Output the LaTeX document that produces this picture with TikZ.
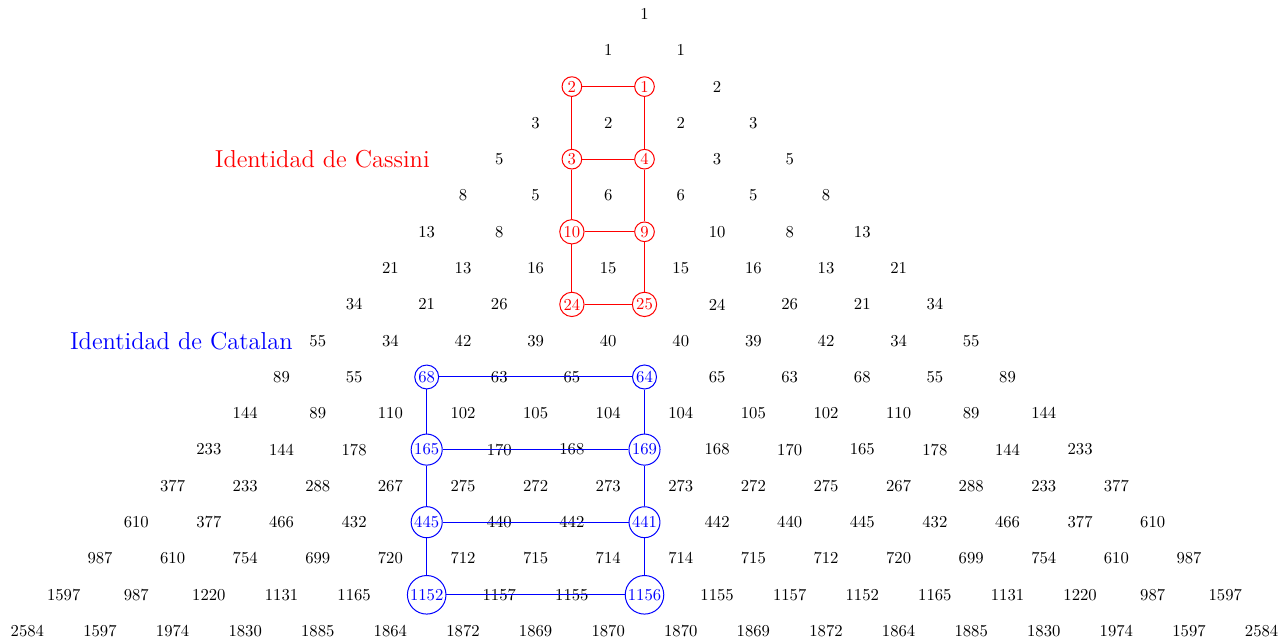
\documentclass[tikz,border=0pt]{standalone}
\begin{document}
\begin{tikzpicture}[x=0.6pt,y=-0.6pt,
  num/.style={inner sep=1pt},
  cas/.style={circle,draw=red,text=red,line width=0.6pt,inner sep=0.9pt,minimum size=11.8pt},
  cat/.style={circle,draw=blue,text=blue,line width=0.6pt,inner sep=0.8pt,minimum size=11.8pt},
  casline/.style={draw=red,line width=0.6pt},
  catline/.style={draw=blue,line width=0.6pt},
  title/.style={font=\fontsize{14.7}{18}\selectfont,anchor=east,inner sep=0pt},
  h-2-0/.style={cas},h-2-1/.style={cas},h-4-1/.style={cas},h-4-2/.style={cas},
  h-6-2/.style={cas},h-6-3/.style={cas},h-8-3/.style={cas},h-8-4/.style={cas},
  h-10-2/.style={cat},h-10-5/.style={cat},h-12-3/.style={cat},h-12-6/.style={cat},
  h-14-4/.style={cat},h-14-7/.style={cat},h-16-5/.style={cat},h-16-8/.style={cat}]
\useasboundingbox (0,0) rectangle (1286,639);
\foreach \n/\vals in {
 0/{1},
 1/{1,1},
 2/{2,1,2},
 3/{3,2,2,3},
 4/{5,3,4,3,5},
 5/{8,5,6,6,5,8},
 6/{13,8,10,9,10,8,13},
 7/{21,13,16,15,15,16,13,21},
 8/{34,21,26,24,25,24,26,21,34},
 9/{55,34,42,39,40,40,39,42,34,55},
 10/{89,55,68,63,65,64,65,63,68,55,89},
 11/{144,89,110,102,105,104,104,105,102,110,89,144},
 12/{233,144,178,165,170,168,169,168,170,165,178,144,233},
 13/{377,233,288,267,275,272,273,273,272,275,267,288,233,377},
 14/{610,377,466,432,445,440,442,441,442,440,445,432,466,377,610},
 15/{987,610,754,699,720,712,715,714,714,715,712,720,699,754,610,987},
 16/{1597,987,1220,1131,1165,1152,1157,1155,1156,1155,1157,1152,1165,1131,1220,987,1597},
 17/{2584,1597,1974,1830,1885,1864,1872,1869,1870,1870,1869,1872,1864,1885,1830,1974,1597,2584}}
{
  \foreach \v [count=\k from 0] in \vals {
    \node[num,h-\n-\k/.try] (h-\n-\k) at ({644.5+(2*\k-\n)*36.3},{14+\n*36.3}) {\v};
  }
}
\node[title,text=red] (cassini) at (430,159) {Identidad de Cassini};
\node[title,text=blue] (catalan) at (293,341) {Identidad de Catalan};
\draw[casline] (h-2-0) -- (h-2-1);
\draw[casline] (h-4-1) -- (h-4-2);
\draw[casline] (h-6-2) -- (h-6-3);
\draw[casline] (h-8-3) -- (h-8-4);
\draw[casline] (h-2-0) -- (h-4-1) -- (h-6-2) -- (h-8-3);
\draw[casline] (h-2-1) -- (h-4-2) -- (h-6-3) -- (h-8-4);
\draw[catline] (h-10-2) -- (h-10-5);
\draw[catline] (h-12-3) -- (h-12-6);
\draw[catline] (h-14-4) -- (h-14-7);
\draw[catline] (h-16-5) -- (h-16-8);
\draw[catline] (h-10-2) -- (h-12-3) -- (h-14-4) -- (h-16-5);
\draw[catline] (h-10-5) -- (h-12-6) -- (h-14-7) -- (h-16-8);
\end{tikzpicture}
\end{document}
